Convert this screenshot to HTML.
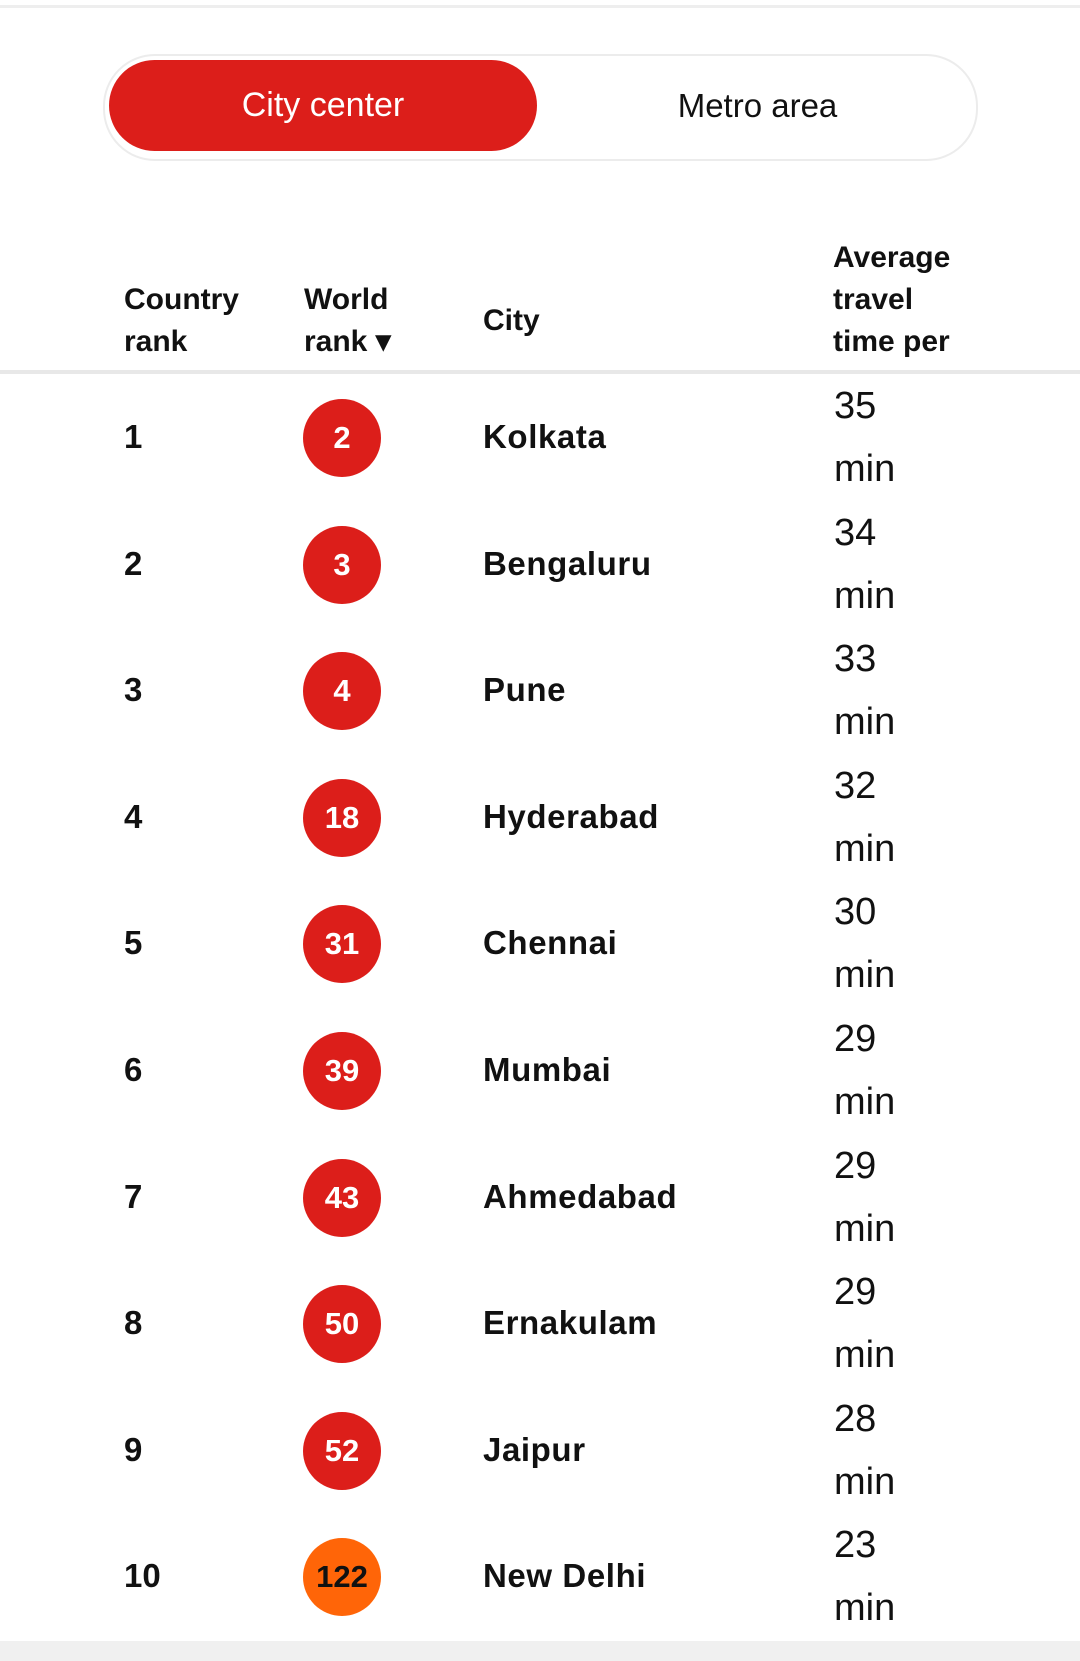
<!DOCTYPE html>
<html><head><style>
body{margin:0;width:1080px;height:1661px;background:#fff;position:relative;overflow:hidden;font-family:"Liberation Sans",sans-serif;color:#111}
.a{position:absolute;white-space:nowrap}
.h{font-weight:bold;font-size:30px;line-height:42px}
.c{position:absolute;left:303px;width:78px;height:78px;border-radius:50%;background:#dc1e1a;color:#fff;font-weight:bold;font-size:31px;text-align:center;line-height:78px}
.r{position:absolute;left:124px;font-weight:bold;font-size:33px}
.n{position:absolute;left:483px;font-weight:bold;font-size:33px;letter-spacing:0.6px}
.t{position:absolute;left:834px;font-size:38px;line-height:63px}
</style></head><body>
<div class="a" style="left:0;top:5px;width:1080px;height:3px;background:#eee"></div>
<div class="a" style="left:103px;top:54px;width:871px;height:103px;border:2px solid #ececec;border-radius:52px"></div>
<div class="a" style="left:109px;top:60px;width:428px;height:91px;border-radius:46px;background:#dc1e1a;color:#fff;font-size:34px;text-align:center;line-height:91px">City center</div>
<div class="a" style="left:560px;top:60px;width:395px;height:91px;font-size:33px;text-align:center;line-height:91px">Metro area</div>
<div class="a h" style="left:124px;top:279px">Country<br>rank</div>
<div class="a h" style="left:304px;top:279px">World<br>rank ▾</div>
<div class="a h" style="left:483px;top:300px">City</div>
<div class="a h" style="left:833px;top:237px">Average<br>travel<br>time per</div>
<div class="a" style="left:0;top:370px;width:1080px;height:4px;background:#e8e8e8"></div>
<div id="rows"></div>
<div class="a" style="left:0;top:1641px;width:1080px;height:20px;background:#f0f0f0"></div>
<script>
var d=[[1,2,"Kolkata",35],[2,3,"Bengaluru",34],[3,4,"Pune",33],[4,18,"Hyderabad",32],[5,31,"Chennai",30],[6,39,"Mumbai",29],[7,43,"Ahmedabad",29],[8,50,"Ernakulam",29],[9,52,"Jaipur",28],[10,122,"New Delhi",23]];
var h="";d.forEach(function(r,i){var c=438+126.6*i;
h+='<div class="r" style="top:'+(c-20)+'px">'+r[0]+'</div>';
h+='<div class="c" style="top:'+(c-39)+'px;'+(r[1]==122?'background:#ff6508;color:#111':'')+'">'+r[1]+'</div>';
h+='<div class="n" style="top:'+(c-20)+'px">'+r[2]+'</div>';
h+='<div class="t" style="top:'+(c-63)+'px">'+r[3]+'<br>min</div>';});
document.getElementById("rows").innerHTML=h;
</script>
</body></html>
